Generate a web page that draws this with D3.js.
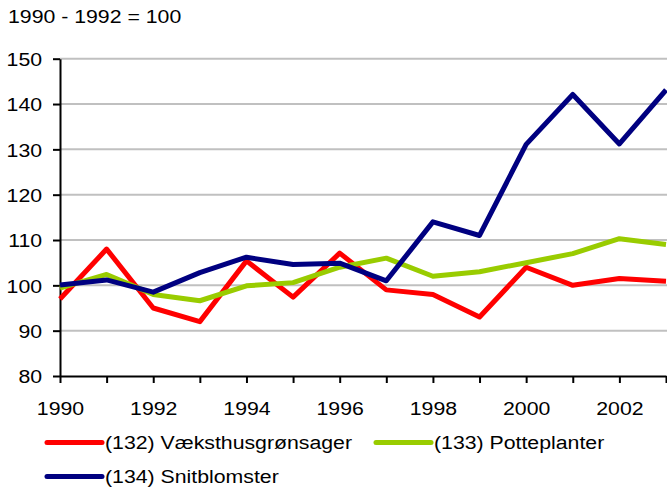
<!DOCTYPE html>
<html>
<head>
<meta charset="utf-8">
<script src="https://cdn.jsdelivr.net/npm/d3@7"></script>
<style>
  body { margin: 0; background: #fff; }
  text { font-family: "Liberation Sans", Arial, sans-serif; font-size: 19px; fill: #000; }
</style>
</head>
<body>
<div id="chart"></div>
<script>
// data
const years = [1990, 1991, 1992, 1993, 1994, 1995, 1996, 1997, 1998, 1999, 2000, 2001, 2002, 2003];
const vaeksthus = [97, 108, 95, 92, 105.4, 97.4, 107.1, 99, 98, 93, 104, 100, 101.5, 100.9];
const potteplanter = [99.4, 102.4, 98, 96.6, 99.9, 100.6, 104, 106, 102, 103, 105, 107, 110.3, 109];
const snitblomster = [100.1, 101.2, 98.5, 102.8, 106.2, 104.6, 104.9, 101, 114, 111, 131.1, 142.1, 131.2, 143.1];
const yTicks = [80, 90, 100, 110, 120, 130, 140, 150];
const xLabels = [1990, 1992, 1994, 1996, 1998, 2000, 2002];

const series = [
    { name: "(132) Væksthusgrønsager", values: vaeksthus, color: "#ff0000" },
    { name: "(133) Potteplanter", values: potteplanter, color: "#99cc00" },
    { name: "(134) Snitblomster", values: snitblomster, color: "#000080" }
];

const width = 667, height = 487;
const fontSize = "19px";
const stretch = "scale(1.12,1)"; // the reference text is a bit wide

const svg = d3.select("#chart").append("svg")
    .attr("width", width)
    .attr("height", height);

// scales
const x = d3.scaleLinear().domain([1990, 2003]).range([60, 666]);
const y = d3.scaleLinear().domain([80, 150]).range([376, 58.7]);

// title
svg.append("text")
    .attr("transform", `translate(8,23) ${stretch}`)
    .text("1990 - 1992 = 100");

// gridlines
svg.append("g")
    .selectAll("line")
    .data(yTicks.filter(d => d > 80))
    .join("line")
    .attr("x1", x(1990))
    .attr("x2", width)
    .attr("y1", d => y(d))
    .attr("y2", d => y(d))
    .attr("stroke", "#c0c0c0")
    .attr("stroke-width", 2);

// y axis
const yAxis = svg.append("g")
    .attr("transform", `translate(${x(1990)},0)`)
    .call(d3.axisLeft(y).tickValues(yTicks).tickSize(7).tickSizeOuter(0));
yAxis.select(".domain").attr("stroke", "#000").attr("stroke-width", 2);
yAxis.selectAll(".tick line").attr("stroke", "#000").attr("stroke-width", 2);
yAxis.selectAll(".tick text")
    .attr("x", -16)
    .attr("dy", "0.36em")
    .attr("transform", stretch)
    .style("font-size", fontSize)
    .style("font-family", "Liberation Sans, Arial, sans-serif");

// x axis
const xAxis = svg.append("g")
    .attr("transform", `translate(0,${y(80)})`)
    .call(d3.axisBottom(x).tickValues(years).tickSize(7).tickSizeOuter(0)
        .tickFormat(d => xLabels.includes(d) ? d : ""));
xAxis.select(".domain").attr("stroke", "#000").attr("stroke-width", 2);
xAxis.selectAll(".tick line").attr("stroke", "#000").attr("stroke-width", 2);
xAxis.selectAll(".tick text")
    .attr("y", 32)
    .attr("dy", "0.36em")
    .attr("transform", stretch)
    .style("font-size", fontSize)
    .style("font-family", "Liberation Sans, Arial, sans-serif");

// lines
const line = d3.line()
    .x((d, i) => x(years[i]))
    .y(d => y(d));

svg.append("g")
    .selectAll("path")
    .data(series)
    .join("path")
    .attr("d", d => line(d.values))
    .attr("fill", "none")
    .attr("stroke", d => d.color)
    .attr("stroke-width", 5)
    .attr("stroke-linejoin", "round");

// legend
const legendPos = [
    { lx: 47, ly: 442.5 },
    { lx: 376, ly: 442.5 },
    { lx: 47, ly: 476.5 }
];
const legend = svg.append("g")
    .selectAll("g")
    .data(series)
    .join("g")
    .attr("transform", (d, i) => `translate(${legendPos[i].lx},${legendPos[i].ly})`);

legend.append("line")
    .attr("x1", 0)
    .attr("x2", 55)
    .attr("stroke", d => d.color)
    .attr("stroke-width", 5)
    .attr("stroke-linecap", "round");

legend.append("text")
    .attr("transform", `translate(58,0) ${stretch}`)
    .attr("dy", "0.36em")
    .text(d => d.name);
</script>
</body>
</html>
